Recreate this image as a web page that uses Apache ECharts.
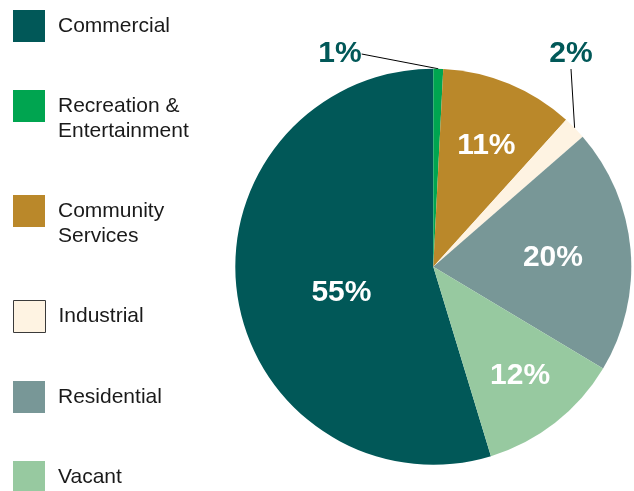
<!DOCTYPE html>
<html><head><meta charset="utf-8">
<script src="https://cdn.jsdelivr.net/npm/echarts@6/dist/echarts.min.js"></script>
<style>html,body{margin:0;padding:0;background:#fff}#c{width:634px;height:491px}</style>
</head><body><div id="c"></div>
<script>
// ---- data ----
const categories = ['Commercial', 'Recreation &\nEntertainment', 'Community\nServices', 'Industrial', 'Residential', 'Vacant'];
const shares = [54.7, 0.8, 10.9, 1.9, 20.0, 11.7];

// ---- style ----
const colors = ['#015858', '#00A550', '#BA882A', '#FEF3E2', '#789797', '#97C9A0'];
const legendCenters = [26, 106, 211, 316, 397, 477];
const insideNudge = { 0: [9, 11], 2: [14, -27], 4: [18, 0], 5: [24, 29] };
const outsideIdx = [1, 3];
const outsidePos = { 1: [340, 54], 3: [571, 54] };
const FONT = '"Liberation Sans", Arial, Helvetica, sans-serif';
const LH = 25;

const pieData = categories.map((name, i) => {
  const item = { name, value: shares[i], itemStyle: { color: colors[i] } };
  if (outsideIdx.includes(i)) {
    item.label = { position: 'outside', color: '#015858' };
    item.labelLine = { show: true, length: 10, length2: 0, lineStyle: { color: '#000', width: 1 } };
  } else {
    item.label = { position: 'inside', offset: insideNudge[i] || [0, 0] };
  }
  return item;
});

const legends = categories.map((name, i) => {
  const extra = name.split('\n').length - 1;
  // blank leading lines keep the first text line level with the square
  const half = Math.max(16, ((2 * extra + 1) * LH) / 2);
  return {
    orient: 'vertical',
    left: 13,
    top: legendCenters[i] - half,
    padding: 0,
    icon: 'rect',
    itemWidth: 32,
    itemHeight: 32,
    selectedMode: false,
    formatter: n => '\n'.repeat(extra) + n,
    data: [i === 3 ? { name, itemStyle: { borderColor: '#3a3a3a', borderWidth: 1 } } : { name }],
    textStyle: {
      fontFamily: FONT, fontSize: 21, color: '#1a1a1a',
      lineHeight: LH, padding: [0, 0, 0, 8]
    }
  };
});

const chart = echarts.init(document.getElementById('c'), null, { renderer: 'canvas' });
chart.setOption({
  animation: false,
  backgroundColor: '#fff',
  legend: legends,
  series: [{
    type: 'pie',
    center: [433.3, 266.7],
    radius: 198,
    startAngle: 90 + 360 * shares[0] / 100,
    clockwise: true,
    avoidLabelOverlap: false,
    itemStyle: { borderWidth: 0 },
    label: {
      show: true,
      formatter: p => Math.round(p.value) + '%',
      fontFamily: FONT, fontSize: 30, fontWeight: 'bold', color: '#fff'
    },
    labelLine: { show: false },
    labelLayout: function (p) {
      const pos = outsidePos[p.dataIndex];
      if (pos) return { x: pos[0], y: pos[1], align: 'center', verticalAlign: 'middle' };
    },
    emphasis: { disabled: true },
    data: pieData
  }]
});
</script></body></html>
